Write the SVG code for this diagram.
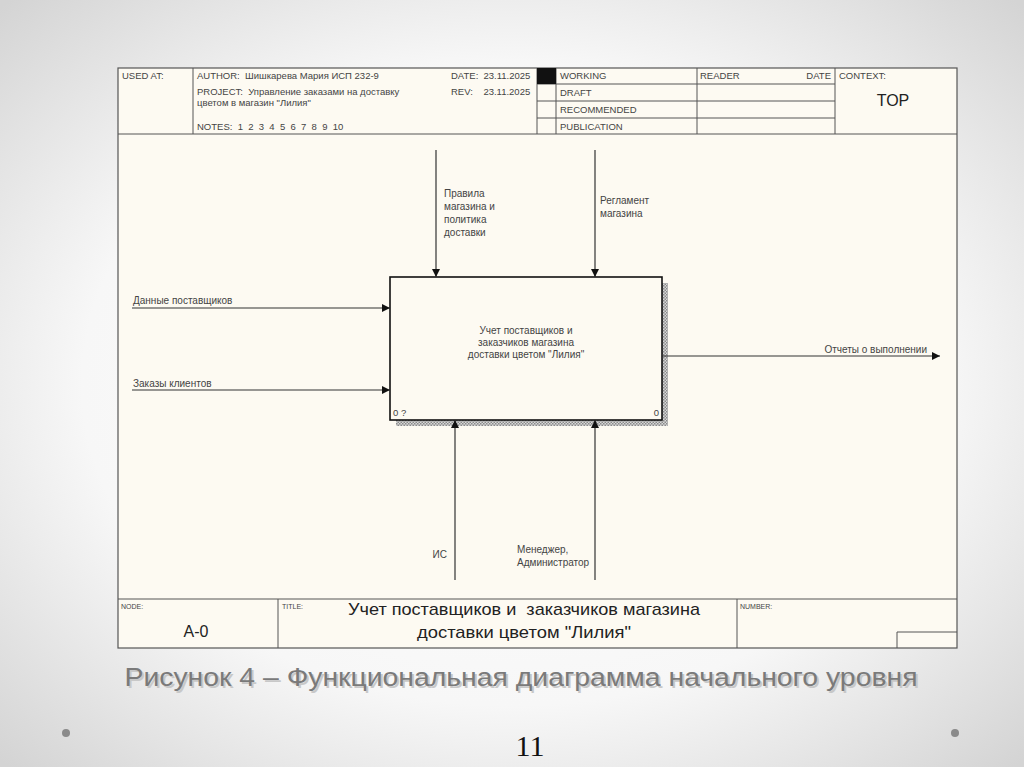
<svg xmlns="http://www.w3.org/2000/svg" width="1024" height="767" viewBox="0 0 1024 767" xml:space="preserve">
<defs>
<radialGradient id="bg" cx="50%" cy="50%" r="70%">
<stop offset="0" stop-color="#ffffff"/>
<stop offset="0.6" stop-color="#f7f7f7"/>
<stop offset="1" stop-color="#d4d4d4"/>
</radialGradient>
<pattern id="hatch" width="3" height="3" patternUnits="userSpaceOnUse">
<rect width="3" height="3" fill="#d8d8d8"/>
<rect width="1.5" height="1.5" fill="#8a8a8a"/>
<rect x="1.5" y="1.5" width="1.5" height="1.5" fill="#8a8a8a"/>
</pattern>
<marker id="arr" viewBox="0 0 10 10" refX="10" refY="5" markerWidth="10" markerHeight="8" markerUnits="userSpaceOnUse" orient="auto">
<path d="M0,0 L10,5 L0,10 z" fill="#111"/>
</marker>
<style>
.t{font-family:"Liberation Sans",Arial,sans-serif;fill:#444;white-space:pre}
.h{font-size:9.5px}
.l{font-size:10px}
.g{stroke:#555;stroke-width:1;fill:none}
.c{stroke:#333;stroke-width:1.2;fill:none;marker-end:url(#arr)}
</style>
</defs>
<rect width="1024" height="767" fill="url(#bg)"/>
<g id="frame">
<rect x="118" y="68" width="839" height="580" fill="#fdfaf2" stroke="#555" stroke-width="1.2"/>
<line class="g" x1="118" y1="134" x2="957" y2="134"/>
<line class="g" x1="118" y1="599" x2="957" y2="599"/>
</g>
<g id="header">
<line class="g" x1="193" y1="68" x2="193" y2="134"/>
<line class="g" x1="537" y1="68" x2="537" y2="134"/>
<line class="g" x1="556" y1="68" x2="556" y2="134"/>
<line class="g" x1="697" y1="68" x2="697" y2="134"/>
<line class="g" x1="835" y1="68" x2="835" y2="134"/>
<line class="g" x1="537" y1="84" x2="835" y2="84"/>
<line class="g" x1="537" y1="101" x2="835" y2="101"/>
<line class="g" x1="537" y1="118" x2="835" y2="118"/>
<rect x="537" y="68" width="19" height="16" fill="#111"/>
<text class="t h" x="122" y="79">USED AT:</text>
<text class="t h" x="197" y="79">AUTHOR:  Шишкарева Мария ИСП 232-9</text>
<text class="t h" x="197" y="95">PROJECT:  Управление заказами на доставку</text>
<text class="t h" x="197" y="106">цветом в магазин "Лилия"</text>
<text class="t h" x="197" y="130">NOTES:  1  2  3  4  5  6  7  8  9  10</text>
<text class="t h" x="451" y="79">DATE:  23.11.2025</text>
<text class="t h" x="451" y="95">REV:    23.11.2025</text>
<text class="t h" x="560" y="79">WORKING</text>
<text class="t h" x="560" y="96">DRAFT</text>
<text class="t h" x="560" y="113">RECOMMENDED</text>
<text class="t h" x="560" y="130">PUBLICATION</text>
<text class="t h" x="700" y="79">READER</text>
<text class="t h" x="831" y="79" text-anchor="end">DATE</text>
<text class="t h" x="839" y="79">CONTEXT:</text>
<text class="t" x="893" y="106" font-size="16" text-anchor="middle" style="fill:#222">TOP</text>
</g>
<g id="A0">
<rect x="396" y="283" width="272" height="143" fill="url(#hatch)"/>
<rect x="390" y="277" width="272" height="143" fill="#fdfaf2" stroke="#111" stroke-width="1.6"/>
<text class="t l" x="526" y="334" text-anchor="middle">Учет поставщиков и</text>
<text class="t l" x="526" y="346" text-anchor="middle">заказчиков магазина</text>
<text class="t l" x="526" y="358" text-anchor="middle">доставки цветом "Лилия"</text>
<text class="t h" x="393" y="416">0 ?</text>
<text class="t h" x="659" y="416" text-anchor="end">0</text>
</g>
<g id="connectors">
<line class="c" x1="436" y1="150" x2="436" y2="277"/>
<line class="c" x1="595" y1="150" x2="595" y2="277"/>
<line class="c" x1="132" y1="308" x2="390" y2="308"/>
<line class="c" x1="132" y1="390" x2="390" y2="390"/>
<line class="c" x1="662" y1="356" x2="940" y2="356"/>
<line class="c" x1="455" y1="580" x2="455" y2="420"/>
<line class="c" x1="595" y1="580" x2="595" y2="420"/>
</g>
<g id="labels">
<text class="t l" x="444" y="197">Правила</text>
<text class="t l" x="444" y="210">магазина и</text>
<text class="t l" x="444" y="223">политика</text>
<text class="t l" x="444" y="236">доставки</text>
<text class="t l" x="600" y="204">Регламент</text>
<text class="t l" x="600" y="217">магазина</text>
<text class="t l" x="133" y="304">Данные поставщиков</text>
<text class="t l" x="133" y="387">Заказы клиентов</text>
<text class="t l" x="927" y="353" text-anchor="end">Отчеты о выполнении</text>
<text class="t l" x="447" y="558" text-anchor="end">ИС</text>
<text class="t l" x="517" y="553">Менеджер,</text>
<text class="t l" x="517" y="566">Администратор</text>
</g>
<g id="footer">
<line class="g" x1="278" y1="599" x2="278" y2="648"/>
<line class="g" x1="737" y1="599" x2="737" y2="648"/>
<polyline class="g" points="897,648 897,632 957,632"/>
<text class="t" x="121" y="609" font-size="7">NODE:</text>
<text class="t" x="196" y="637" font-size="16" text-anchor="middle" style="fill:#222">A-0</text>
<text class="t" x="282" y="609" font-size="7">TITLE:</text>
<text class="t" x="524" y="615" font-size="17" text-anchor="middle" style="fill:#222" textLength="352" lengthAdjust="spacingAndGlyphs">Учет поставщиков и  заказчиков магазина</text>
<text class="t" x="524" y="638" font-size="17" text-anchor="middle" style="fill:#222" textLength="214" lengthAdjust="spacingAndGlyphs">доставки цветом "Лилия"</text>
<text class="t" x="740" y="609" font-size="7">NUMBER:</text>
</g>
<g id="caption">
<text x="523" y="688" font-family="Liberation Sans, Arial, sans-serif" font-size="25" fill="#c8c8c8" text-anchor="middle" textLength="793" lengthAdjust="spacingAndGlyphs">Рисунок 4 – Функциональная диаграмма начального уровня</text>
<text x="521" y="686" font-family="Liberation Sans, Arial, sans-serif" font-size="25" fill="#7a7a7a" text-anchor="middle" textLength="793" lengthAdjust="spacingAndGlyphs">Рисунок 4 – Функциональная диаграмма начального уровня</text>
<text x="530" y="756" font-family="Liberation Serif, Times New Roman, serif" font-size="30" fill="#111" text-anchor="middle">11</text>
<circle cx="66" cy="733" r="4" fill="#8a8a8a"/>
<circle cx="955" cy="733" r="4" fill="#8a8a8a"/>
</g>
</svg>
